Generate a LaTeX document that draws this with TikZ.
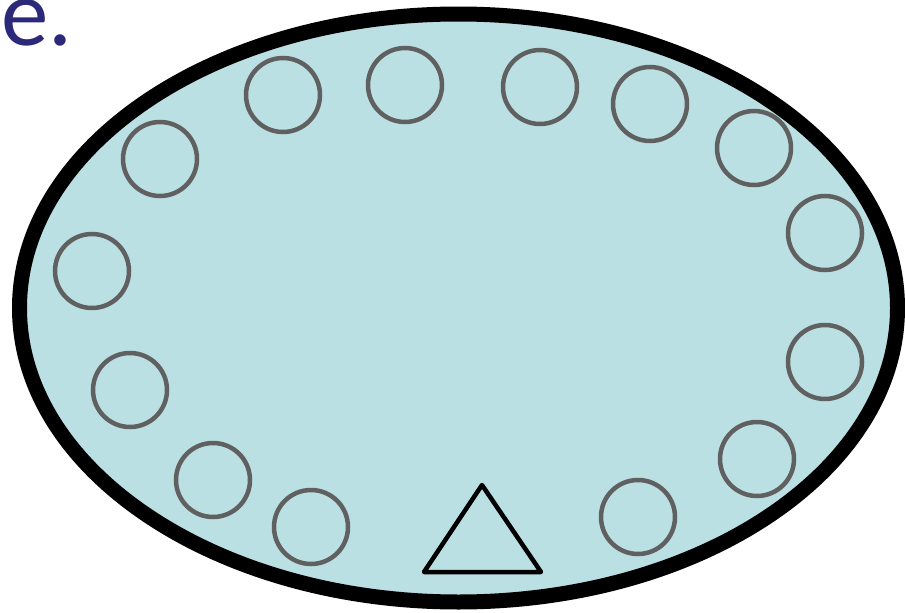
\documentclass[tikz,border=0pt]{standalone}
\usepackage{fontspec}
\setmainfont{Carlito}
\definecolor{fillblue}{HTML}{BAE0E4}
\definecolor{ringgray}{HTML}{606060}
\definecolor{navy}{HTML}{2B2A7A}
\tikzset{
  ring/.style={circle,draw=ringgray,line width=4.5pt,minimum size=74pt,inner sep=0pt},
  outer/.style={draw=black,fill=fillblue,line width=15pt},
  tri/.style={draw=black,line width=4.5pt,line join=round}
}
\begin{document}
\begin{tikzpicture}[x=1pt,y=-1pt]
\useasboundingbox (0,0) rectangle (905,613);
\draw[outer] (458.5,308) ellipse [x radius=439, y radius=294];
\node[anchor=base west,text=navy,inner sep=0pt,font=\fontsize{95}{95}\selectfont] (lbl) at (1,45) {e.};
\node[ring] (c1) at (283,95) {};
\node[ring] (c2) at (405,85) {};
\node[ring] (c3) at (540,87) {};
\node[ring] (c4) at (650,104) {};
\node[ring] (c5) at (754,148) {};
\node[ring] (c6) at (825,233) {};
\node[ring] (c7) at (825,362) {};
\node[ring] (c8) at (757,459) {};
\node[ring] (c9) at (638,517) {};
\node[ring] (c10) at (311,527) {};
\node[ring] (c11) at (213,480) {};
\node[ring] (c12) at (130,390) {};
\node[ring] (c13) at (92,271) {};
\node[ring] (c14) at (160,159) {};
\coordinate (tl) at (424,572);
\coordinate (tr) at (541,572);
\coordinate (tt) at (482,485);
\draw[tri] (tl) -- (tr) -- (tt) -- cycle;
\end{tikzpicture}
\end{document}
